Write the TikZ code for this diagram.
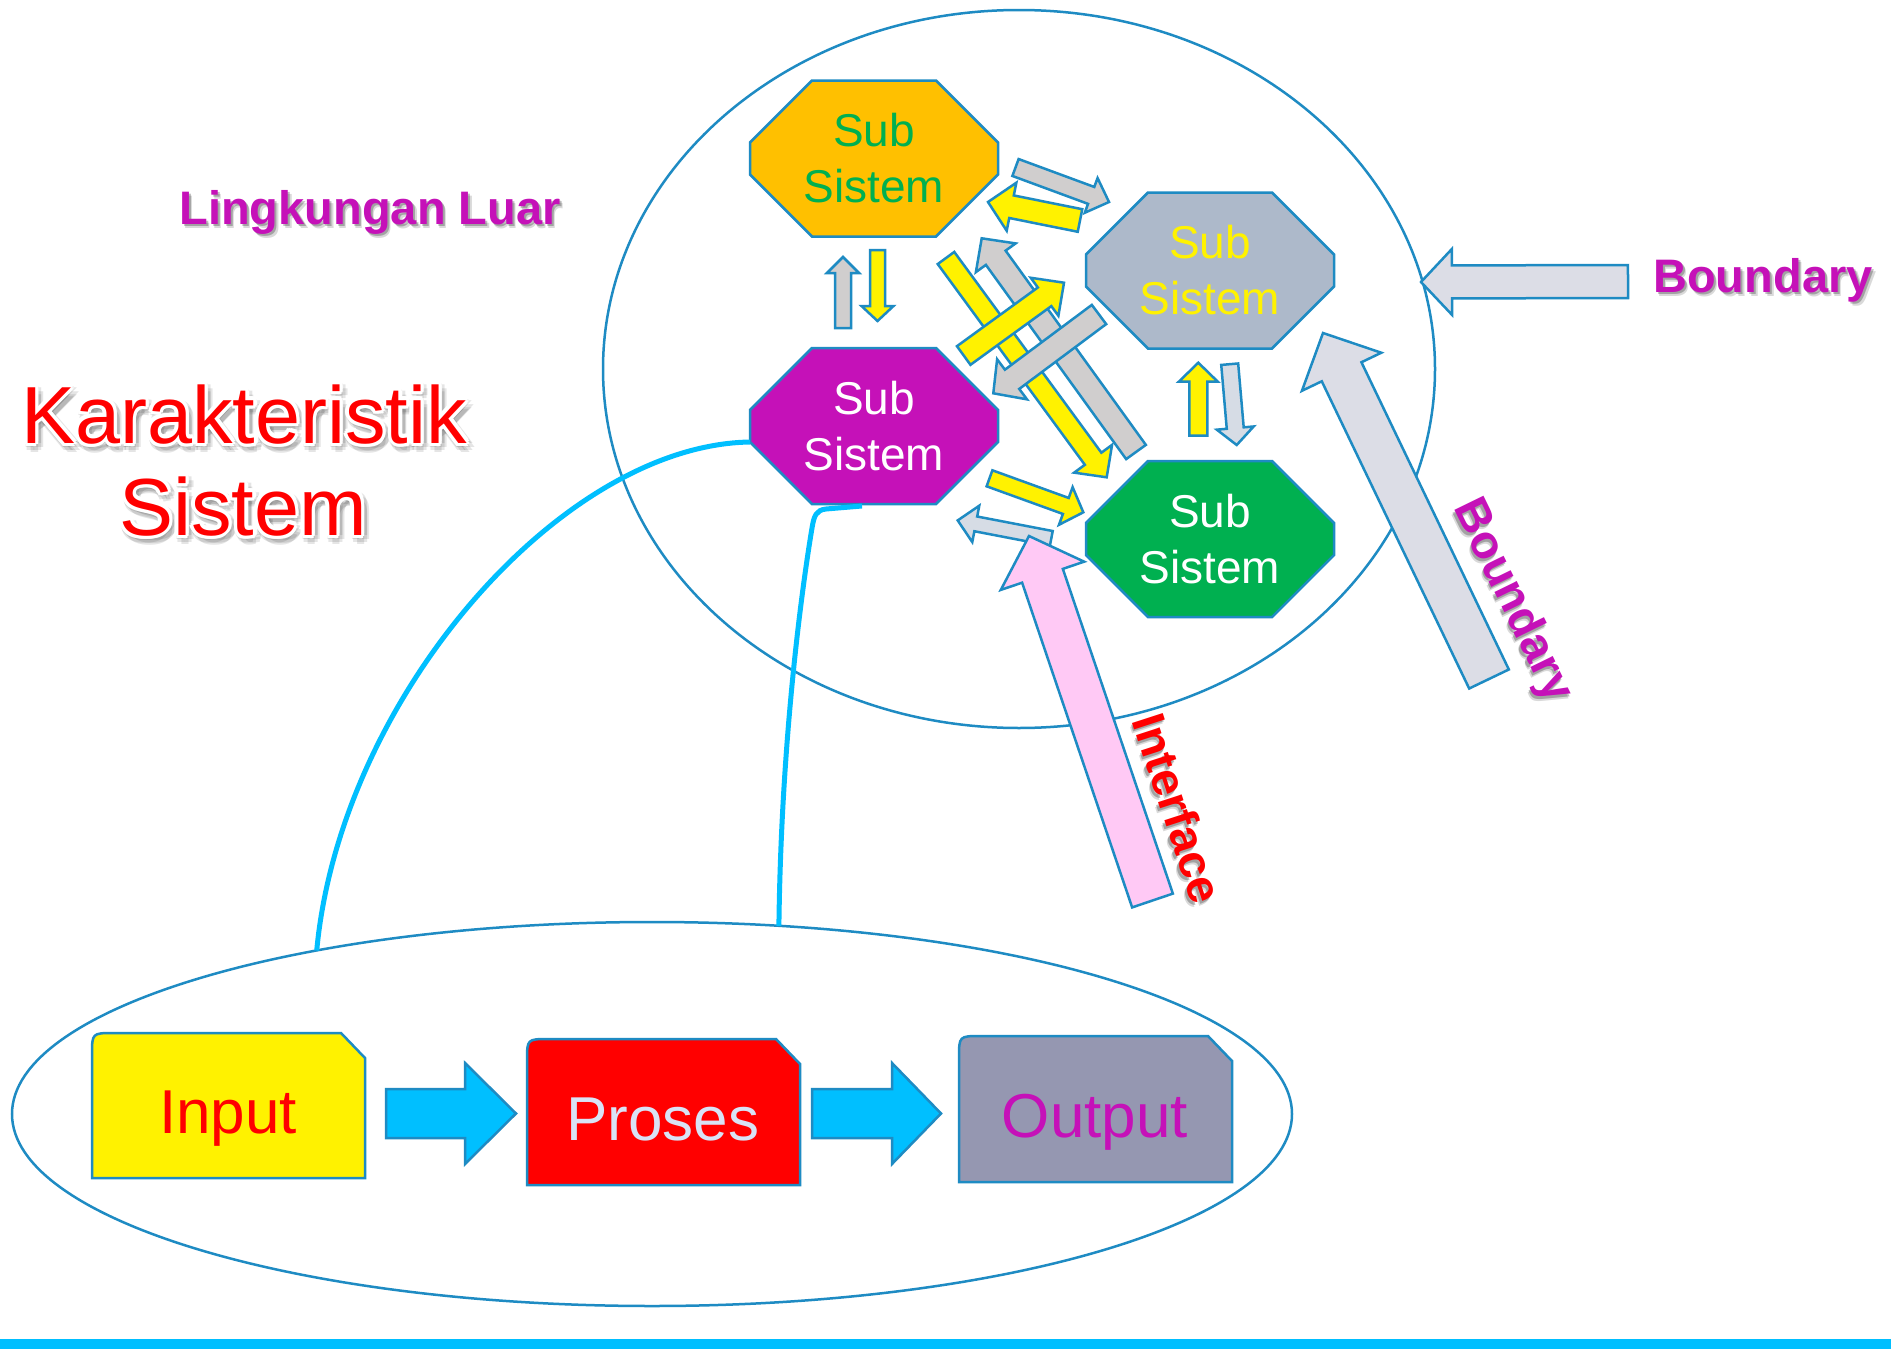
\documentclass[tikz,border=0pt]{standalone}
\usepackage{fontspec}
\setmainfont{Liberation Sans}
\usetikzlibrary{shapes.geometric}

\definecolor{edge}{HTML}{1E8BC3}
\definecolor{subgreen}{HTML}{00B050}
\definecolor{suborange}{HTML}{FFC000}
\definecolor{submagenta}{HTML}{C511B8}
\definecolor{subgray}{HTML}{ADB9CA}
\definecolor{arrowgray}{HTML}{D0CECE}
\definecolor{arrowblue}{HTML}{D6DCE5}
\definecolor{bndgray}{HTML}{DCDDE6}
\definecolor{ifpink}{HTML}{FFC9F5}
\definecolor{flowblue}{HTML}{00BFFF}
\definecolor{outgray}{HTML}{9597B1}
\definecolor{proslight}{HTML}{D9E2F5}

\tikzset{
  octo/.style={draw=edge, line width=2.5pt, line join=miter},
  subtext/.style={align=center, inner sep=0pt, font=\fontsize{46}{56}\selectfont},
  blk/.style={draw=edge, line width=2.5pt, line join=miter},
  sysell/.style={ellipse, draw=edge, line width=2.5pt, inner sep=0pt, outer sep=0pt},
  link/.style={draw=flowblue, line width=5pt},
  boxshape/.style={draw=edge, line width=2.5pt},
  boxtext/.style={inner sep=0pt, anchor=base, font=\fontsize{62}{70}\selectfont},
  lbl/.style={inner sep=0pt, font=\fontsize{47}{52}\selectfont\bfseries},
  bigtext/.style={inner sep=0pt, anchor=base, font=\fontsize{81}{90}\selectfont},
}

% octagonal sub-system: name, centre x, centre y, fill, text colour
\newcommand\subsys[5]{%
  \draw[octo, fill=#4] ({#2-124},{#3-16}) -- ({#2-62},{#3-78}) -- ({#2+62},{#3-78})
    -- ({#2+124},{#3-16}) -- ({#2+124},{#3+16}) -- ({#2+62},{#3+78})
    -- ({#2-62},{#3+78}) -- ({#2-124},{#3+16}) -- cycle;
  \node[subtext, text=#5] (#1) at (#2,#3) {Sub\\Sistem};
  \coordinate (#1-w) at ({#2-124},{#3+16});
}

% block arrow: fill, tail x, tail y, tip x, tip y, shaft width, head width, head length
\newcommand\blockarr[8]{%
  \pgfmathsetmacro\bDx{(#4)-(#2)}%
  \pgfmathsetmacro\bDy{(#5)-(#3)}%
  \pgfmathsetmacro\bL{veclen(\bDx,\bDy)}%
  \pgfmathsetmacro\bUx{\bDx/\bL}%
  \pgfmathsetmacro\bUy{\bDy/\bL}%
  \pgfmathsetmacro\bBx{(#4)-\bUx*(#8)}%
  \pgfmathsetmacro\bBy{(#5)-\bUy*(#8)}%
  \pgfmathsetmacro\bSx{-\bUy*(#6)/2}%
  \pgfmathsetmacro\bSy{\bUx*(#6)/2}%
  \pgfmathsetmacro\bHx{-\bUy*(#7)/2}%
  \pgfmathsetmacro\bHy{\bUx*(#7)/2}%
  \draw[blk, fill=#1] ({#2+(\bSx)},{#3+(\bSy)}) -- ({\bBx+(\bSx)},{\bBy+(\bSy)})
    -- ({\bBx+(\bHx)},{\bBy+(\bHy)}) -- (#4,#5) -- ({\bBx-(\bHx)},{\bBy-(\bHy)})
    -- ({\bBx-(\bSx)},{\bBy-(\bSy)}) -- ({#2-(\bSx)},{#3-(\bSy)}) -- cycle;
}

% box with one rounded and one snipped top corner: x1, y1, x2, y2, fill
\newcommand\flowbox[5]{%
  \draw[boxshape, fill=#5] (#1,#4) -- (#1,{#2+22}) .. controls (#1,#2) .. ({#1+22},#2)
    -- ({#3-24},#2) -- (#3,{#2+25}) -- (#3,#4) -- cycle;
}

% bold label with a soft drop shadow: name, x, y, angle, colour, text
\newcommand\shlabel[6]{%
  \node[lbl, rotate=#4, xshift=3.5pt, yshift=-4pt, text=black, opacity=0.15] at (#2,#3) {#6};
  \node[lbl, rotate=#4, xshift=2pt, yshift=-2.5pt, text=black, opacity=0.25] at (#2,#3) {#6};
  \node[lbl, rotate=#4, text=#5] (#1) at (#2,#3) {#6};
}

% large red title text with white outline and grey shadow: name, x, y, text
\newcommand\glowtext[4]{%
  \foreach \a in {0,45,...,315} {
    \node[bigtext, text=black, opacity=0.1] at ([shift={(\a:5)}] {#2+3},{#3+4}) {#4};
  }
  \foreach \a in {0,30,...,330} {
    \node[bigtext, text=white] at ([shift={(\a:3.5)}] #2,#3) {#4};
  }
  \node[bigtext, text=red] (#1) at (#2,#3) {#4};
}

\begin{document}
\begin{tikzpicture}[x=1pt, y=-1pt]
\useasboundingbox (0,0) rectangle (1891,1349);
\fill[white] (0,0) rectangle (1891,1349);

% the system and its surroundings
\node[sysell, minimum width=832pt, minimum height=718pt] (env) at (1019,369) {};
\node[sysell, minimum width=1280pt, minimum height=384pt] (flow) at (652,1114) {};

% sub-systems
\subsys{subA}{874}{158.5}{suborange}{subgreen}
\subsys{subB}{874}{426}{submagenta}{white}
\subsys{subC}{1210}{270.5}{subgray}{yellow}
\subsys{subD}{1210}{539}{subgreen}{white}

% links from the sub-system down to the process ellipse
\coordinate (stub) at (862,506);
\draw[link] (subB-w) .. controls (560,445) and (340,700) .. (flow.154);
\draw[link] (stub) -- (826,509) .. controls (816,510) and (814,516) .. (812,528)
  .. controls (800,600) and (781,750) .. (flow.56);

% exchanges between the sub-systems
\blockarr{arrowgray}{843}{328}{843}{257}{16}{32}{16}
\blockarr{yellow}{877.5}{250}{877.5}{321}{15}{32}{15}
\blockarr{yellow}{1198.3}{435.7}{1198.3}{362.7}{18}{39}{19}
\blockarr{arrowblue}{1229.7}{364.2}{1236.7}{445}{17}{37}{17}
\blockarr{arrowgray}{1015.5}{167.5}{1109}{202}{18}{37}{19}
\blockarr{yellow}{1080}{220.5}{988}{202}{23}{49}{24}
\blockarr{yellow}{946}{258}{1106.7}{477.3}{20.5}{47}{23}
\blockarr{arrowgray}{1136}{452}{981.7}{238.3}{24.3}{49}{24}
\blockarr{yellow}{963.7}{355.5}{1064}{282.7}{23}{47}{24}
\blockarr{arrowgray}{1099}{314.5}{993.3}{393.3}{24}{50}{23.4}
\blockarr{yellow}{989.5}{478.3}{1083.3}{512.3}{17}{40}{18.6}
\blockarr{arrowblue}{1051.3}{538.4}{957.7}{520.4}{15}{37}{18.4}

% interface and boundary arrows
\blockarr{ifpink}{1152.5}{900.5}{1029}{536}{43}{88}{42}
\blockarr{bndgray}{1489}{679}{1323}{333}{44}{88}{43}
\blockarr{bndgray}{1628}{281.5}{1421}{282}{33}{66}{31}

% labels
\shlabel{luar}{370}{212}{0}{submagenta}{Lingkungan Luar}
\shlabel{bnd1}{1763}{280}{0}{submagenta}{Boundary}
\shlabel{bnd2}{1512}{601}{-64}{submagenta}{Boundary}
\shlabel{iface}{1178}{808}{-72}{red}{Interface}

\glowtext{title1}{244}{443}{Karakteristik}
\glowtext{title2}{243}{535}{Sistem}

% input - process - output
\flowbox{92}{1033}{365}{1178}{yellow}
\flowbox{527}{1039}{800}{1185}{red}
\flowbox{959}{1036}{1232}{1182}{outgray}
\node[boxtext, text=red] (input) at (228,1133) {Input};
\node[boxtext, text=proslight] (proses) at (663,1140) {Proses};
\node[boxtext, text=submagenta] (output) at (1095,1137) {Output};
\blockarr{flowblue}{386}{1113.5}{516}{1113.5}{49}{101}{51}
\blockarr{flowblue}{812}{1113.5}{941}{1113.5}{49}{101}{49}

% bottom rule
\fill[flowblue] (0,1339) rectangle (1891,1349);
\end{tikzpicture}
\end{document}
